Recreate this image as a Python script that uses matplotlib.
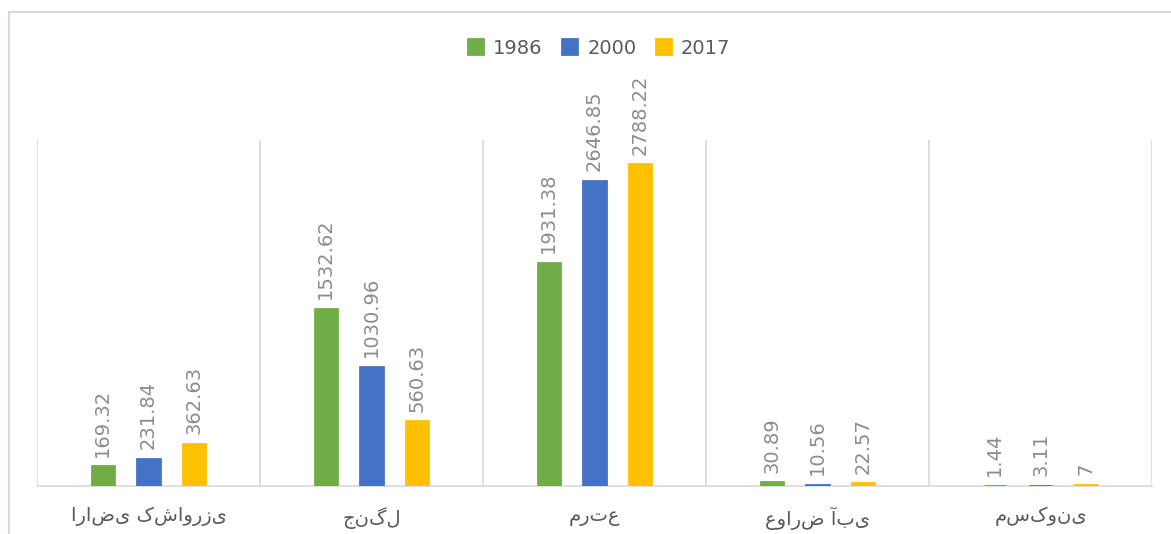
import matplotlib
matplotlib.use('Agg')
import numpy as np
import matplotlib.pyplot as plt
from matplotlib.patches import Rectangle

# Data
categories = ['اراضی کشاورزی', 'جنگل', 'مرتع', 'عوارض آبی', 'مسکونی']
years = ['1986', '2000', '2017']
v1986 = [169.32, 1532.62, 1931.38, 30.89, 1.44]
v2000 = [231.84, 1030.96, 2646.85, 10.56, 3.11]
v2017 = [362.63, 560.63, 2788.22, 22.57, 7]
labels_1986 = ['169.32', '1532.62', '1931.38', '30.89', '1.44']
labels_2000 = ['231.84', '1030.96', '2646.85', '10.56', '3.11']
labels_2017 = ['362.63', '560.63', '2788.22', '22.57', '7']

colors = ['#70AD47', '#4472C4', '#FFC000']
series = [v1986, v2000, v2017]
series_labels = [labels_1986, labels_2000, labels_2017]

fig = plt.figure(figsize=(11.71, 5.34), dpi=100)
ax = fig.add_axes([37 / 1171, 48 / 534, 1115 / 1171, 346 / 534])

x = np.arange(len(categories))
width = 0.100
offsets = [-0.205, 0, 0.205]

for vals, lbls, col, off, yr in zip(series, series_labels, colors, offsets, years):
    bars = ax.bar(x + off, vals, width, color=col, edgecolor=col, linewidth=2,
                  label=yr, zorder=3)
    for b, t in zip(bars, lbls):
        ax.text(b.get_x() + b.get_width() / 2, b.get_height() + 85, t,
                rotation=90, ha='center', va='bottom', fontsize=14,
                color='#8c8c8c')

# category separators
for xb in np.arange(-0.5, len(categories), 1.0):
    ax.plot([xb, xb], [0, 3000], color='#d9d9d9', lw=1.2, zorder=1)

ax.set_xlim(-0.5, len(categories) - 0.5)
ax.set_ylim(0, 3000)
ax.set_yticks([])
ax.set_xticks(x)
ax.set_xticklabels(categories, fontsize=14, color='#595959')
ax.tick_params(axis='x', length=0, pad=15)
for s in ['top', 'left', 'right']:
    ax.spines[s].set_visible(False)
ax.spines['bottom'].set_color('#d9d9d9')
ax.spines['bottom'].set_linewidth(1.2)
ax.spines['bottom'].set_zorder(2)

leg = fig.legend(loc='center', bbox_to_anchor=(599 / 1171, 1 - 48 / 534), ncol=3,
                 frameon=False, fontsize=14, handlelength=0.8, handleheight=0.8,
                 handletextpad=0.5, columnspacing=1.0)
for t in leg.get_texts():
    t.set_color('#595959')

# outer border
fig.patches.append(Rectangle((9 / 1171, -0.1), 1.2, 1.1 - 12 / 534,
                             transform=fig.transFigure, fill=False,
                             edgecolor='#d9d9d9', lw=1.5))

fig.savefig('out.png', dpi=100)
